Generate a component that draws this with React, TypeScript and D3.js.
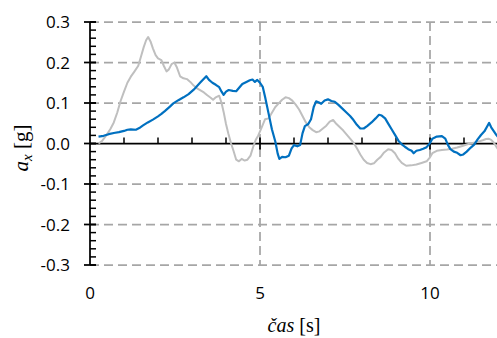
import React from "react";
import * as d3 from "d3";

// Time stamps [s] and longitudinal acceleration [g] for the two records
const blueTime = [0.25,0.4,0.55,0.7,0.85,1.0,1.1,1.2,1.35,1.45,1.55,1.7,1.85,2.0,2.1,2.2,2.35,2.45,2.6,2.75,2.9,3.05,3.15,3.25,3.35,3.42,3.5,3.6,3.7,3.8,3.87,3.93,4.0,4.08,4.2,4.3,4.38,4.48,4.6,4.7,4.78,4.85,4.92,5.0,5.08,5.15,5.25,5.35,5.45,5.52,5.57,5.65,5.75,5.85,5.93,6.0,6.1,6.18,6.25,6.32,6.42,6.5,6.58,6.65,6.72,6.8,6.9,7.0,7.1,7.2,7.3,7.4,7.55,7.65,7.75,7.85,7.95,8.05,8.15,8.28,8.4,8.5,8.58,8.68,8.78,8.88,8.98,9.07,9.17,9.26,9.36,9.46,9.52,9.6,9.7,9.8,9.9,10.0,10.07,10.2,10.35,10.45,10.53,10.6,10.7,10.8,10.9,10.98,11.08,11.2,11.3,11.4,11.5,11.6,11.68,11.74,11.8,11.88,11.96,12.0];
const blueAx = [0.017,0.019,0.023,0.026,0.028,0.031,0.034,0.035,0.034,0.038,0.044,0.052,0.059,0.067,0.073,0.080,0.091,0.099,0.107,0.114,0.122,0.133,0.142,0.151,0.160,0.166,0.157,0.150,0.145,0.139,0.128,0.120,0.128,0.132,0.130,0.129,0.137,0.147,0.152,0.156,0.158,0.152,0.157,0.150,0.140,0.115,0.075,0.035,0.005,-0.025,-0.038,-0.033,-0.034,-0.030,-0.012,-0.004,-0.007,-0.004,0.025,0.043,0.048,0.060,0.090,0.104,0.102,0.098,0.106,0.109,0.105,0.103,0.096,0.088,0.076,0.068,0.058,0.046,0.037,0.037,0.043,0.052,0.062,0.071,0.069,0.062,0.048,0.034,0.020,0.007,-0.002,-0.008,-0.014,-0.018,-0.024,-0.018,-0.016,-0.013,-0.009,0.001,0.012,0.017,0.018,0.012,-0.004,-0.014,-0.020,-0.023,-0.029,-0.027,-0.020,-0.010,-0.003,0.010,0.021,0.030,0.042,0.051,0.040,0.030,0.020,0.016];

const grayTime = [0.25,0.35,0.48,0.6,0.7,0.8,0.9,1.0,1.1,1.2,1.3,1.42,1.5,1.58,1.65,1.71,1.78,1.85,1.93,2.0,2.1,2.17,2.25,2.32,2.4,2.48,2.55,2.65,2.75,2.85,2.95,3.05,3.15,3.25,3.35,3.45,3.55,3.62,3.7,3.8,3.87,3.93,4.0,4.07,4.15,4.22,4.3,4.38,4.46,4.55,4.63,4.72,4.8,4.88,4.95,5.05,5.15,5.25,5.35,5.45,5.55,5.65,5.75,5.85,5.95,6.05,6.15,6.25,6.35,6.45,6.55,6.65,6.75,6.85,6.95,7.05,7.15,7.25,7.35,7.45,7.55,7.65,7.75,7.85,7.95,8.05,8.15,8.25,8.35,8.45,8.55,8.65,8.77,8.87,8.97,9.07,9.17,9.3,9.45,9.6,9.75,9.9,10.0,10.07,10.2,10.35,10.5,10.65,10.8,10.95,11.1,11.25,11.4,11.55,11.65,11.72,11.8,11.88,11.95,12.0];
const grayAx = [0.0,0.006,0.020,0.036,0.052,0.076,0.105,0.128,0.150,0.165,0.177,0.192,0.215,0.238,0.255,0.263,0.252,0.235,0.218,0.210,0.206,0.192,0.178,0.183,0.196,0.200,0.189,0.166,0.161,0.159,0.152,0.143,0.136,0.131,0.126,0.119,0.113,0.108,0.114,0.118,0.100,0.078,0.048,0.024,0.000,-0.018,-0.040,-0.044,-0.038,-0.042,-0.040,-0.030,-0.008,0.010,0.020,0.040,0.060,0.062,0.076,0.090,0.099,0.108,0.114,0.112,0.106,0.096,0.084,0.068,0.052,0.040,0.033,0.028,0.030,0.037,0.044,0.054,0.058,0.048,0.040,0.032,0.022,0.012,0.002,-0.012,-0.027,-0.040,-0.048,-0.051,-0.049,-0.040,-0.033,-0.022,-0.014,-0.016,-0.024,-0.038,-0.048,-0.055,-0.054,-0.052,-0.048,-0.044,-0.034,-0.024,-0.018,-0.016,-0.015,-0.013,-0.010,-0.006,-0.002,0.001,0.004,0.008,0.011,0.012,0.009,0.002,-0.008,-0.014];

const yMajorTicks = [-0.3, -0.2, -0.1, 0.0, 0.1, 0.2, 0.3];
const yTickLabels = ["-0.3", "-0.2", "-0.1", "0.0", "0.1", "0.2", "0.3"];
const xMajorTicks = [0, 5, 10];
const xTickLabels = ["0", "5", "10"];

const W = 497;
const H = 338;

export default function App() {
  const x = d3.scaleLinear().domain([0, 12]).range([90, 498]);
  const y = d3.scaleLinear().domain([-0.3, 0.3]).range([265, 22]);

  const blue = blueTime.map((t, i) => [t, blueAx[i]] as [number, number]);
  const gray = grayTime.map((t, i) => [t, grayAx[i]] as [number, number]);
  const line = d3
    .line<[number, number]>()
    .x((d) => x(d[0]))
    .y((d) => y(d[1]));

  const gridColor = "#A6A6A6";
  const dash = "9 5";
  const yMinor = d3.range(-0.3, 0.3001, 0.02);
  const xMinor = d3.range(1, 12, 1).filter((v) => v % 5 !== 0);
  const labelFont = "'Open Sans', 'Liberation Sans', sans-serif";
  const titleFont = "'Liberation Serif', 'DejaVu Serif', serif";

  return (
    <svg
      width={W}
      height={H}
      style={{ position: "absolute", left: 0, top: 0, background: "#fff" }}
    >
      {/* horizontal grid */}
      {yMajorTicks
        .filter((v) => Math.abs(v) > 1e-9)
        .map((v) => (
          <line
            key={"hg" + v}
            x1={x(0)}
            x2={W}
            y1={y(v)}
            y2={y(v)}
            stroke={gridColor}
            strokeWidth={1.75}
            strokeDasharray={dash}
          />
        ))}
      {/* vertical grid */}
      {xMajorTicks
        .filter((v) => v > 0)
        .map((v) => (
          <line
            key={"vg" + v}
            x1={x(v)}
            x2={x(v)}
            y1={y(0.3)}
            y2={y(-0.3)}
            stroke={gridColor}
            strokeWidth={1.75}
            strokeDasharray={dash}
          />
        ))}

      {/* x axis along a = 0 */}
      <line x1={x(0)} x2={W} y1={y(0)} y2={y(0)} stroke="#000" strokeWidth={1.75} />
      {xMinor.map((v) => (
        <line key={"xm" + v} x1={x(v)} x2={x(v)} y1={y(0) - 6} y2={y(0)} stroke="#000" strokeWidth={1.5} />
      ))}
      {xMajorTicks
        .filter((v) => v > 0)
        .map((v) => (
          <line key={"xM" + v} x1={x(v)} x2={x(v)} y1={y(0) - 6} y2={y(0) + 6} stroke="#000" strokeWidth={1.75} />
        ))}

      {/* y axis */}
      <line x1={x(0)} x2={x(0)} y1={y(0.3)} y2={y(-0.3)} stroke="#000" strokeWidth={1.75} />
      {yMinor.map((v, i) => (
        <line key={"ym" + i} x1={x(0)} x2={x(0) + 6} y1={y(v)} y2={y(v)} stroke="#000" strokeWidth={1.5} />
      ))}
      {yMajorTicks.map((v) => (
        <line key={"yM" + v} x1={x(0) - 6} x2={x(0) + 6} y1={y(v)} y2={y(v)} stroke="#000" strokeWidth={1.75} />
      ))}

      {/* series */}
      <path d={line(gray) ?? ""} fill="none" stroke="#BFBFBF" strokeWidth={2} strokeLinejoin="round" />
      <path d={line(blue) ?? ""} fill="none" stroke="#0070C0" strokeWidth={2.2} strokeLinejoin="round" />

      {/* tick labels */}
      {yMajorTicks.map((v, i) => (
        <text
          key={"yl" + v}
          x={70}
          y={y(v)}
          dy="0.36em"
          textAnchor="end"
          fontFamily={labelFont}
          fontSize={17}
          fill="#000"
        >
          {yTickLabels[i]}
        </text>
      ))}
      {xMajorTicks.map((v, i) => (
        <text
          key={"xl" + v}
          x={x(v)}
          y={299}
          textAnchor="middle"
          fontFamily={labelFont}
          fontSize={17}
          fill="#000"
        >
          {xTickLabels[i]}
        </text>
      ))}

      {/* axis titles */}
      <text x={294} y={332} textAnchor="middle" fontFamily={titleFont} fontSize={20} fill="#000">
        <tspan fontStyle="italic">čas</tspan>
        <tspan> [s]</tspan>
      </text>
      <text
        transform="translate(28,148) rotate(-90)"
        textAnchor="middle"
        fontFamily={titleFont}
        fontSize={21}
        fill="#000"
      >
        <tspan fontStyle="italic">a</tspan>
        <tspan fontStyle="italic" fontSize={15} dy={4}>x</tspan>
        <tspan dy={-4}> [g]</tspan>
      </text>
    </svg>
  );
}
